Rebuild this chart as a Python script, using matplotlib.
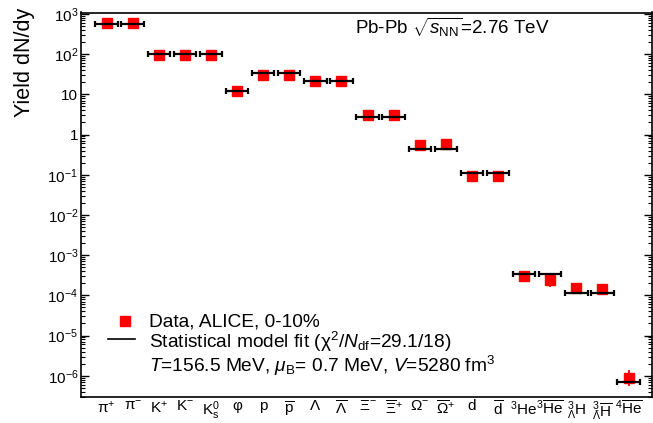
import numpy as np
import matplotlib
matplotlib.use("Agg")
import matplotlib.pyplot as plt
from matplotlib.lines import Line2D
from matplotlib.ticker import FixedLocator, LogLocator, FuncFormatter, NullFormatter

plt.rcParams["font.family"] = ["Liberation Sans", "DejaVu Sans"]
plt.rcParams["mathtext.fontset"] = "custom"
plt.rcParams["mathtext.rm"] = "Liberation Sans"
plt.rcParams["mathtext.it"] = "Liberation Sans:italic"
plt.rcParams["mathtext.bf"] = "Liberation Sans:bold"
plt.rcParams["mathtext.sf"] = "Liberation Sans"

# particle species (x axis)
particles = [
    "π$^{+}$", "π$^{-}$", "K$^{+}$", "K$^{-}$", r"K$^{0}_{\rm s}$", "φ", "p",
    r"$\overline{\rm p}$", "Λ", r"$\overline{\Lambda}$", "Ξ$^{-}$",
    r"$\overline{\Xi}^{+}$", "Ω$^{-}$", r"$\overline{\Omega}^{+}$", "d",
    r"$\overline{\rm d}$", r"$^{3}$He", r"$^{3}\overline{\rm He}$",
    r"$^{3}_{\Lambda}$H", r"$^{3}_{\bar{\Lambda}}\overline{\rm H}$",
    r"$^{4}\overline{\rm He}$",
]

# measured yields dN/dy (ALICE, 0-10%)
data = [590, 590, 95, 95, 95, 12, 30, 30, 22, 22, 3.1, 3.1, 0.55, 0.57,
        0.094, 0.093, 3.0e-4, 2.4e-4, 1.5e-4, 1.45e-4, 9.0e-7]
# data uncertainties (lower, upper)
err_lo = [0, 0, 0, 0, 0, 0, 0, 0, 0, 0, 0, 0, 0, 0, 0, 0,
          0, 0.8e-4, 0.35e-4, 0.4e-4, 3.5e-7]
err_hi = [0, 0, 0, 0, 0, 0, 0, 0, 0, 0, 0, 0, 0, 0, 0, 0,
          0, 0.7e-4, 0.4e-4, 0.4e-4, 4.5e-7]

# statistical model fit
model = [560, 560, 99, 99, 99, 12, 34, 34, 21.5, 21.5, 2.7, 2.7, 0.44, 0.44,
         0.108, 0.108, 3.3e-4, 3.3e-4, 1.15e-4, 1.15e-4, 6.9e-7]

decades = [1e-6, 1e-5, 1e-4, 1e-3, 1e-2, 1e-1, 1, 10, 1e2, 1e3]

x = np.arange(len(particles))

fig = plt.figure(figsize=(6.53, 4.23), dpi=100)
ax = fig.add_axes([81 / 653, 1 - 397.3 / 423, 571 / 653, 384.8 / 423])

ax.errorbar(x, data, yerr=[err_lo, err_hi], fmt="s", color="red", ms=7,
            mec="red", ecolor="red", elinewidth=1.3, capsize=0, zorder=3)
ax.errorbar(x, model, xerr=0.43, fmt="none", ecolor="black", elinewidth=1.6,
            capsize=2, capthick=1.6, zorder=4)

ax.set_yscale("log")
ax.set_ylim(10 ** -6.537, 10 ** 3.035)
ax.set_xlim(-0.98, 20.9)

ax.set_xticks(x)
ax.set_xticklabels(particles, fontsize=11)
ax.set_xticks(x[1::2], minor=True)
ax.tick_params(axis="x", which="major", length=0, pad=1.5)
ax.tick_params(axis="x", which="minor", direction="in", length=5, width=0.8)
ax.grid(which="minor", axis="x", linestyle=(0, (1, 2)), color="0.3", lw=0.9)


def yfmt(v, pos):
    e = int(round(np.log10(v)))
    if e == 1:
        return "10"
    if e == 0:
        return "1"
    return r"$10^{%d}$" % e


ax.yaxis.set_major_locator(FixedLocator(decades))
ax.yaxis.set_minor_locator(LogLocator(base=10, subs=np.arange(2, 10), numticks=20))
ax.yaxis.set_major_formatter(FuncFormatter(yfmt))
ax.yaxis.set_minor_formatter(NullFormatter())
ax.tick_params(axis="y", which="both", direction="in", left=True, right=True,
               labelsize=11, pad=2)
ax.tick_params(axis="y", which="major", length=6, width=1)
ax.tick_params(axis="y", which="minor", length=3, width=0.8)

for s in ax.spines.values():
    s.set_linewidth(1.2)

fig.text(0.038, 0.981, "Yield dN/dy", rotation=90, ha="center", va="top",
         fontsize=15.5)

fig.text(355 / 653, 1 - 33.5 / 423, r"Pb-Pb $\sqrt{s_{\rm NN}}$=2.76 TeV",
         fontsize=13.5, va="baseline")

# legend
fig.add_artist(Line2D([124.5 / 653], [1 - 321 / 423], marker="s", color="red",
                      ms=7, transform=fig.transFigure))
fig.add_artist(Line2D([108 / 653, 135 / 653], [1 - 339.3 / 423] * 2,
                      color="black", lw=1.2, transform=fig.transFigure))
fig.text(149.3 / 653, 1 - 326.7 / 423, "Data, ALICE, 0-10%", fontsize=13.8,
         va="baseline")
fig.text(149.3 / 653, 1 - 347.7 / 423,
         r"Statistical model fit (χ$^{2}$/$N_{\rm df}$=29.1/18)",
         fontsize=13.8, va="baseline")
fig.text(149.3 / 653, 1 - 371.7 / 423,
         r"$T$=156.5 MeV, $\mu_{\rm B}$= 0.7 MeV, $V$=5280 fm$^{3}$",
         fontsize=13.8, va="baseline")

fig.savefig("out.png", dpi=100)
